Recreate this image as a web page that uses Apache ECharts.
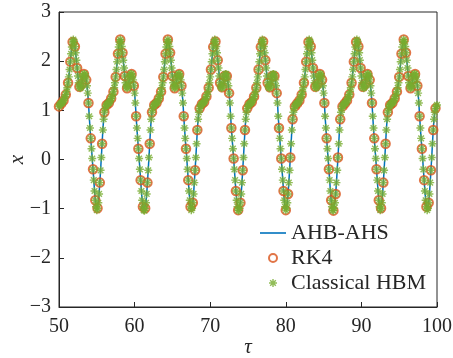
<!DOCTYPE html>
<html>
<head>
<meta charset="utf-8">
<script src="https://cdn.jsdelivr.net/npm/echarts@6/dist/echarts.min.js"></script>
<style>
  html, body { margin: 0; padding: 0; background: #fff; }
  #chart { width: 453px; height: 358px; }
</style>
</head>
<body>
<div id="chart"></div>
<script>
// Response x(tau), sampled every 0.1 from tau = 50 to tau = 100, listed cycle by cycle.
const leadIn = [1.08, 1.11, 1.13, 1.14, 1.15, 1.17, 1.20, 1.24, 1.28, 1.32, 1.38, 1.46, 1.56, 1.68, 1.83, 1.99, 2.15, 2.29, 2.39];
const cycle1 = [2.44, 2.40, 2.30, 2.17, 2.02, 1.86, 1.70, 1.56, 1.48, 1.45, 1.47, 1.54, 1.63, 1.70, 1.74, 1.74, 1.70, 1.62, 1.50, 1.35, 1.15, 0.88, 0.64, 0.43, 0.22, 0.02, -0.20, -0.42, -0.64, -0.83, -0.96, -1.03,
  -0.99, -0.88, -0.70, -0.47, -0.22, 0.04, 0.32, 0.60, 0.82, 0.96, 1.04, 1.08, 1.11, 1.13, 1.14, 1.15, 1.17, 1.20, 1.24, 1.28, 1.32, 1.38, 1.46, 1.56, 1.68, 1.83, 1.99, 2.15, 2.29, 2.39];
const cycle2 = [2.44, 2.40, 2.30, 2.17, 2.02, 1.86, 1.70, 1.56, 1.48, 1.45, 1.47, 1.54, 1.63, 1.70, 1.74, 1.74, 1.70, 1.62, 1.50, 1.35, 1.15, 0.88, 0.64, 0.43, 0.22, 0.02, -0.20, -0.42, -0.64, -0.83, -0.96, -1.03,
  -1.04, -0.99, -0.88, -0.70, -0.47, -0.22, 0.04, 0.32, 0.60, 0.82, 0.96, 1.04, 1.08, 1.11, 1.13, 1.14, 1.15, 1.17, 1.20, 1.24, 1.28, 1.32, 1.38, 1.46, 1.56, 1.68, 1.83, 1.99, 2.15, 2.29, 2.39];
const cycle3 = [2.44, 2.40, 2.30, 2.17, 2.02, 1.86, 1.70, 1.56, 1.48, 1.45, 1.47, 1.54, 1.63, 1.70, 1.74, 1.74, 1.70, 1.62, 1.50, 1.35, 1.15, 0.88, 0.64, 0.43, 0.22, 0.02, -0.20, -0.42, -0.64, -0.83, -0.96, -1.03,
  -0.99, -0.88, -0.70, -0.47, -0.22, 0.04, 0.32, 0.60, 0.82, 0.96, 1.04, 1.08, 1.11, 1.13, 1.14, 1.15, 1.17, 1.20, 1.24, 1.28, 1.32, 1.38, 1.46, 1.56, 1.68, 1.83, 1.99, 2.15, 2.29, 2.39];
const cycle4 = [2.44, 2.40, 2.30, 2.17, 2.02, 1.86, 1.70, 1.56, 1.48, 1.45, 1.47, 1.54, 1.63, 1.70, 1.74, 1.74, 1.70, 1.62, 1.50, 1.35, 1.15, 0.88, 0.64, 0.43, 0.22, 0.02, -0.20, -0.42, -0.64, -0.83, -0.96, -1.03,
  -1.04, -0.99, -0.88, -0.70, -0.47, -0.22, 0.04, 0.32, 0.60, 0.82, 0.96, 1.04, 1.08, 1.11, 1.13, 1.14, 1.15, 1.17, 1.20, 1.24, 1.28, 1.32, 1.38, 1.46, 1.56, 1.68, 1.83, 1.99, 2.15, 2.29, 2.39];
const cycle5 = [2.44, 2.40, 2.30, 2.17, 2.02, 1.86, 1.70, 1.56, 1.48, 1.45, 1.47, 1.54, 1.63, 1.70, 1.74, 1.74, 1.70, 1.62, 1.50, 1.35, 1.15, 0.88, 0.64, 0.43, 0.22, 0.02, -0.20, -0.42, -0.64, -0.83, -0.96, -1.03,
  -0.99, -0.88, -0.70, -0.47, -0.22, 0.04, 0.32, 0.60, 0.82, 0.96, 1.04, 1.08, 1.11, 1.13, 1.14, 1.15, 1.17, 1.20, 1.24, 1.28, 1.32, 1.38, 1.46, 1.56, 1.68, 1.83, 1.99, 2.15, 2.29, 2.39];
const cycle6 = [2.44, 2.40, 2.30, 2.17, 2.02, 1.86, 1.70, 1.56, 1.48, 1.45, 1.47, 1.54, 1.63, 1.70, 1.74, 1.74, 1.70, 1.62, 1.50, 1.35, 1.15, 0.88, 0.64, 0.43, 0.22, 0.02, -0.20, -0.42, -0.64, -0.83, -0.96, -1.03,
  -1.04, -0.99, -0.88, -0.70, -0.47, -0.22, 0.04, 0.32, 0.60, 0.82, 0.96, 1.04, 1.08, 1.11, 1.13, 1.14, 1.15, 1.17, 1.20, 1.24, 1.28, 1.32, 1.38, 1.46, 1.56, 1.68, 1.83, 1.99, 2.15, 2.29, 2.39];
const cycle7 = [2.44, 2.40, 2.30, 2.17, 2.02, 1.86, 1.70, 1.56, 1.48, 1.45, 1.47, 1.54, 1.63, 1.70, 1.74, 1.74, 1.70, 1.62, 1.50, 1.35, 1.15, 0.88, 0.64, 0.43, 0.22, 0.02, -0.20, -0.42, -0.64, -0.83, -0.96, -1.03,
  -0.99, -0.88, -0.70, -0.47, -0.22, 0.04, 0.32, 0.60, 0.82, 0.96, 1.04, 1.08, 1.11, 1.13, 1.14, 1.15, 1.17, 1.20, 1.24, 1.28, 1.32, 1.38, 1.46, 1.56, 1.68, 1.83, 1.99, 2.15, 2.29, 2.39];
const tail = [2.44, 2.40, 2.30, 2.17, 2.02, 1.86, 1.70, 1.56, 1.48, 1.45, 1.47, 1.54, 1.63, 1.70, 1.74, 1.74, 1.70, 1.62, 1.50, 1.35, 1.15, 0.88, 0.64, 0.43, 0.22, 0.02, -0.20, -0.42, -0.64, -0.83, -0.96, -1.03,
  -0.99, -0.88, -0.70, -0.47, -0.22, 0.04, 0.32, 0.60, 0.82, 0.96, 1.04, 1.08, 1.11];

const tauStart = 50;
const tauStep = 0.1;
const rk4Stride = 3;

const xTicks = [50, 60, 70, 80, 90, 100];
const yTicks = [-3, -2, -1, 0, 1, 2, 3];
const seriesNames = ['AHB-AHS', 'RK4', 'Classical HBM'];

const samples = [].concat(leadIn, cycle1, cycle2, cycle3, cycle4, cycle5, cycle6, cycle7, tail);
const tau = samples.map((_, i) => Math.round((tauStart + i * tauStep) * 10) / 10);
const points = tau.map((t, i) => [t, samples[i]]);
const rk4Points = points.filter((_, i) => i % rk4Stride === 0);

// asterisk marker: four thin bars through the centre
const asterisk = 'path://M8.2,0 L11.8,0 L11.8,20 L8.2,20 Z M0,8.2 L20,8.2 L20,11.8 L0,11.8 Z ' +
  'M4.2,1.65 L18.35,15.8 L15.8,18.35 L1.65,4.2 Z M4.2,18.35 L1.65,15.8 L15.8,1.65 L18.35,4.2 Z';
const lineIcon = 'path://M0,0 L26,0 L26,1.6 L0,1.6 Z';

const font = 'Liberation Serif';
const ink = '#262626';
const minus = v => (v < 0 ? '\u2212' + Math.abs(v) : String(v));

const chart = echarts.init(document.getElementById('chart'), null, { renderer: 'canvas' });
chart.setOption({
  animation: false,
  backgroundColor: '#fff',
  grid: {
    left: 59, right: 16, top: 12, bottom: 51, outerBoundsMode: 'none', containLabel: false,
    show: true, borderColor: ink, borderWidth: 1, backgroundColor: 'transparent'
  },
  xAxis: {
    type: 'value', min: xTicks[0], max: xTicks[xTicks.length - 1], interval: 10,
    name: '\u03c4', nameLocation: 'middle', nameGap: 30, nameMoveOverlap: false,
    nameTextStyle: { fontFamily: font, fontStyle: 'italic', fontSize: 21, color: ink },
    axisLine: { onZero: false, lineStyle: { color: ink, width: 1 } },
    axisTick: { inside: true, length: 5, lineStyle: { color: ink } },
    axisLabel: { fontFamily: font, fontSize: 20, color: ink, margin: 10, formatter: minus },
    splitLine: { show: false }
  },
  yAxis: {
    type: 'value', min: yTicks[0], max: yTicks[yTicks.length - 1], interval: 1,
    name: 'x', nameLocation: 'middle', nameGap: 31, nameRotate: 90, nameMoveOverlap: false,
    nameTextStyle: { fontFamily: font, fontStyle: 'italic', fontSize: 21, color: ink },
    axisLine: { onZero: false, lineStyle: { color: ink, width: 1 } },
    axisTick: { inside: true, length: 5, lineStyle: { color: ink } },
    axisLabel: { fontFamily: font, fontSize: 20, color: ink, margin: 8, formatter: minus },
    splitLine: { show: false }
  },
  legend: {
    orient: 'vertical', left: 260, top: 222, padding: 0,
    itemWidth: 26, itemHeight: 8, itemGap: 3,
    textStyle: { fontFamily: font, fontSize: 22, color: ink, lineHeight: 22 },
    data: [
      { name: seriesNames[0], icon: lineIcon },
      { name: seriesNames[1] },
      { name: seriesNames[2] }
    ]
  },
  series: [
    {
      name: seriesNames[0], type: 'line', data: points, symbol: 'none', z: 1,
      lineStyle: { color: '#0072BD', width: 1.5 }, itemStyle: { color: '#0072BD' }
    },
    {
      name: seriesNames[1], type: 'scatter', data: rk4Points, symbol: 'circle', symbolSize: 8.5, z: 2,
      itemStyle: { color: 'rgba(0,0,0,0)', borderColor: '#D95319', borderWidth: 2 }
    },
    {
      name: seriesNames[2], type: 'scatter', data: points, symbol: asterisk, symbolSize: 8, z: 3,
      itemStyle: { color: '#77AC30' }
    }
  ]
});
</script>
</body>
</html>
